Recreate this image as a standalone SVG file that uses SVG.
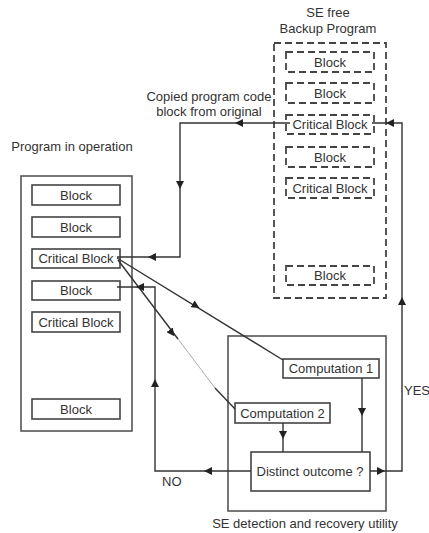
<svg xmlns="http://www.w3.org/2000/svg" width="429" height="533" viewBox="0 0 429 533">
<style>
text{font-family:"Liberation Sans",Arial,sans-serif;font-size:13px;fill:#333;}
.c{text-anchor:middle;}
.box{fill:#fff;stroke:#444;stroke-width:1.6;}
.outer{fill:none;stroke:#555;stroke-width:1.6;}
.dash{fill:none;stroke:#444;stroke-width:1.8;stroke-dasharray:7 4;}
.ln{fill:none;stroke:#333;stroke-width:1.4;}
.ah{fill:none;stroke:none;marker-end:url(#a);}
</style>
<defs>
<marker id="a" markerWidth="8" markerHeight="8" refX="3" refY="3" orient="auto" markerUnits="userSpaceOnUse" viewBox="0 0 6 6">
<path d="M0,0 L6,3 L0,6 Z" fill="#222"/>
</marker>
</defs>
<rect width="429" height="533" fill="#fff"/>

<g id="program">
<rect class="outer" x="21" y="176" width="111" height="255"/>
<text class="c" x="72" y="151">Program in operation</text>
</g>
<g id="p-block1"><rect class="box" x="32" y="185" width="88" height="20"/><text class="c" x="76" y="199.5">Block</text></g>
<g id="p-block2"><rect class="box" x="32" y="217" width="88" height="20"/><text class="c" x="76" y="231.5">Block</text></g>
<g id="p-critical1"><rect class="box" x="32" y="249" width="88" height="19"/><text class="c" x="76" y="263">Critical Block</text></g>
<g id="p-block4"><rect class="box" x="32" y="281" width="88" height="19"/><text class="c" x="76" y="295">Block</text></g>
<g id="p-critical2"><rect class="box" x="32" y="312" width="88" height="20"/><text class="c" x="76" y="326.5">Critical Block</text></g>
<g id="p-block6"><rect class="box" x="32" y="399" width="88" height="20"/><text class="c" x="76" y="413.5">Block</text></g>

<g id="backup">
<rect class="dash" x="274" y="43" width="112" height="255"/>
<text class="c" x="328" y="17">SE free</text>
<text class="c" x="328" y="32.5">Backup Program</text>
</g>
<g id="b-block1"><rect class="dash" x="286" y="52" width="88" height="20"/><text class="c" x="330" y="66.5">Block</text></g>
<g id="b-block2"><rect class="dash" x="286" y="83" width="88" height="20"/><text class="c" x="330" y="97.5">Block</text></g>
<g id="b-critical1"><rect class="dash" x="286" y="115" width="88" height="19"/><text class="c" x="330" y="129">Critical Block</text></g>
<g id="b-block4"><rect class="dash" x="286" y="147" width="88" height="20"/><text class="c" x="330" y="161.5">Block</text></g>
<g id="b-critical2"><rect class="dash" x="286" y="178" width="88" height="20"/><text class="c" x="330" y="192.5">Critical Block</text></g>
<g id="b-block6"><rect class="dash" x="286" y="266" width="88" height="19"/><text class="c" x="330" y="280">Block</text></g>

<g id="utility">
<rect class="outer" x="228" y="336" width="158" height="175"/>
<text class="c" x="305" y="528">SE detection and recovery utility</text>
</g>
<g id="comp1"><rect class="box" x="283" y="359" width="96" height="19"/><text class="c" x="331" y="373">Computation 1</text></g>
<g id="comp2"><rect class="box" x="235" y="403" width="95" height="20"/><text class="c" x="282.5" y="417.5">Computation 2</text></g>
<g id="distinct"><rect class="box" x="251" y="452" width="119" height="39"/><text class="c" x="310" y="476">Distinct outcome ?</text></g>

<g id="labels">
<text class="c" x="209" y="101">Copied program code</text>
<text class="c" x="209" y="116">block from original</text>
<text x="404" y="395">YES</text>
<text x="162" y="486">NO</text>
</g>

<g id="connectors">
<path class="ln" d="M370,471 H402 V123 H372"/>
<path class="ln" d="M290,123 H180 V257 H117"/>
<path class="ln" d="M117,258 L283,360"/>
<path class="ln" d="M118,260 L178,339"/>
<path class="ln" d="M178,339 L215,388" style="stroke:#aaa;stroke-width:1"/>
<path class="ln" d="M215,388 L235,409"/>
<path class="ln" d="M117,287 H155 V471 H251"/>
<path class="ln" d="M362,378 V452"/>
<path class="ln" d="M283,423 V452"/>
<path class="ah" d="M243,123 L239,123"/>
<path class="ah" d="M394,123 L390,123"/>
<path class="ah" d="M180,181 L180,185"/>
<path class="ah" d="M156,257 L152,257"/>
<path class="ah" d="M192.6,303.9 L196,306"/>
<path class="ah" d="M169.6,329.8 L172,333"/>
<path class="ah" d="M144,287 L140,287"/>
<path class="ah" d="M155,387 L155,383"/>
<path class="ah" d="M212,471 L208,471"/>
<path class="ah" d="M377,471 L381,471"/>
<path class="ah" d="M402,305 L402,301"/>
<path class="ah" d="M362,408 L362,412"/>
<path class="ah" d="M283,431 L283,435"/>
</g>
</svg>
